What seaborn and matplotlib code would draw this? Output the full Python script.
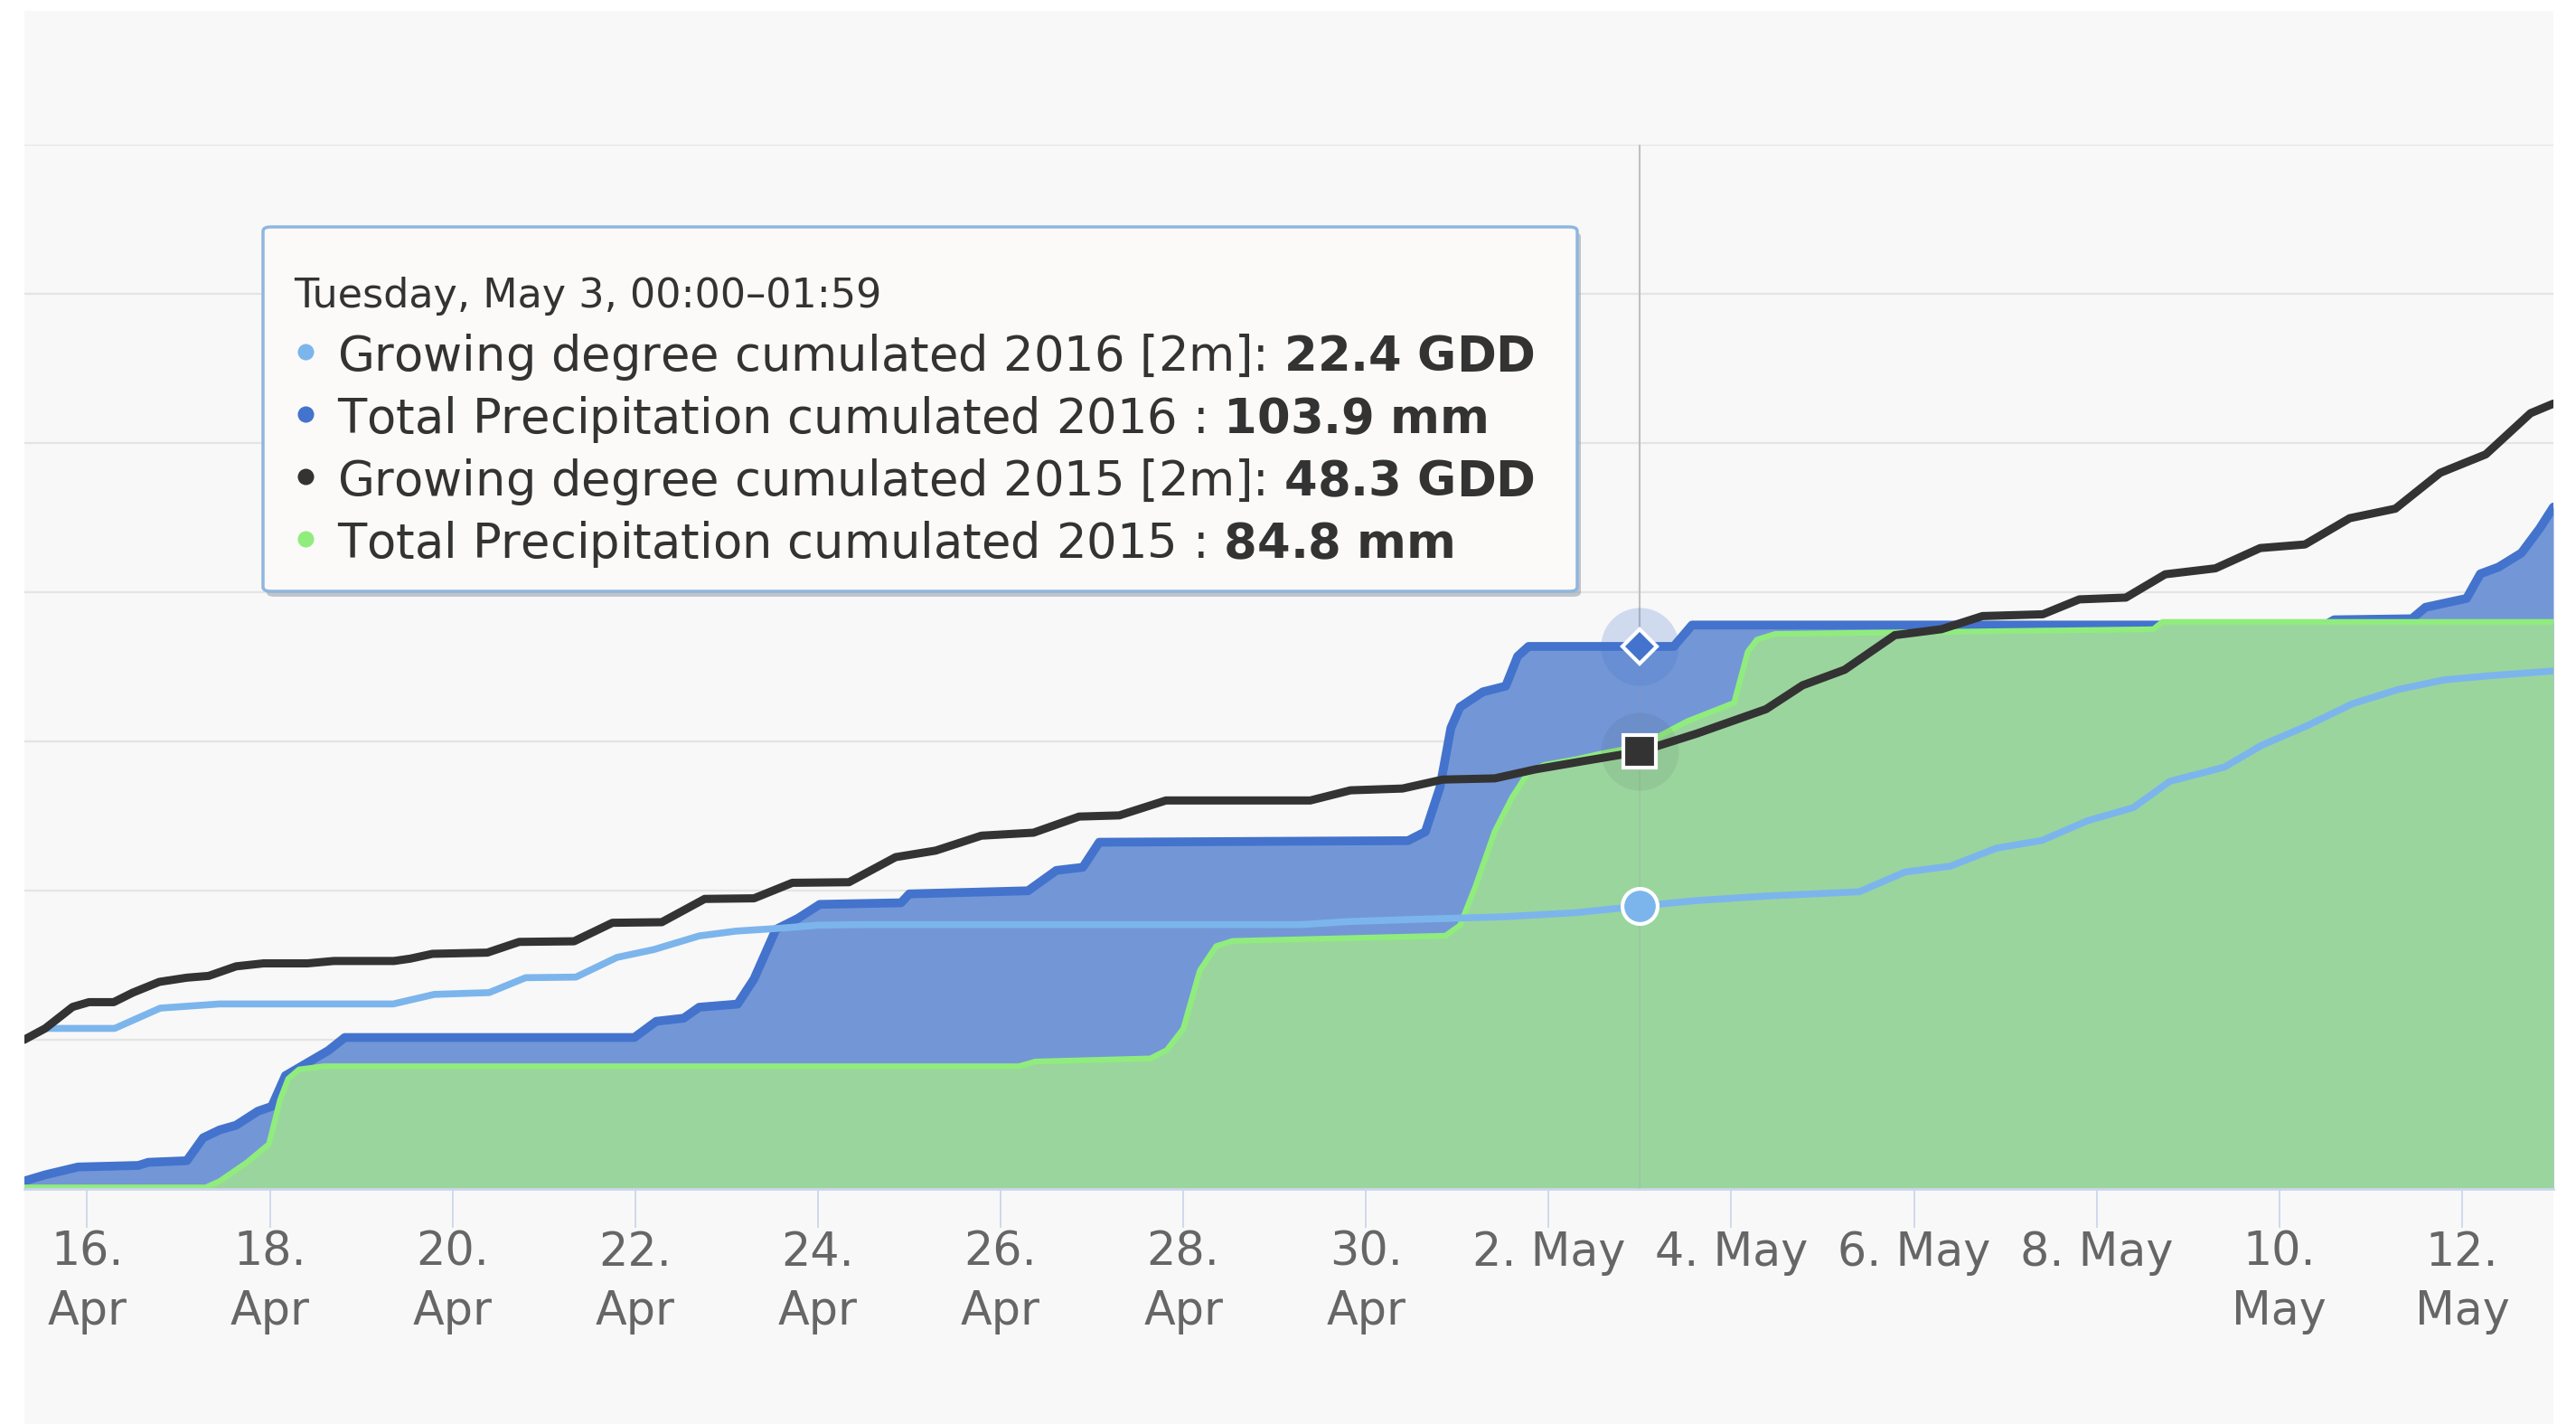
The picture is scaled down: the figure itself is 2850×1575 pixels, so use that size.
import matplotlib
matplotlib.use("Agg")

import numpy as np
import pandas as pd
import matplotlib.pyplot as plt
import seaborn as sns
from matplotlib.patches import Rectangle, FancyBboxPatch
from matplotlib.lines import Line2D

# ===============================
# data (days after 16 Apr 00:00)
# ===============================
gdd16_day = [-0.69, -0.45, 0.3, 0.8, 1.45, 3.35, 3.8, 4.4, 4.8, 5.35, 5.8, 6.2, 6.7, 7.1,
             7.6, 8.0, 8.5, 13.3, 13.8, 14.6, 15.5, 16.3, 17.0, 17.6, 18.4, 19.4, 19.9, 20.4,
             20.9, 21.4, 21.9, 22.4, 22.8, 23.4, 23.8, 24.3, 24.8, 25.3, 25.8, 26.3, 27.0]
gdd16_val = [0.0, 1.9, 1.9, 5.3, 6.0, 6.0, 7.6, 7.9, 10.4, 10.5, 13.8, 15.1, 17.4, 18.2,
             18.7, 19.2, 19.3, 19.3, 19.8, 20.2, 20.6, 21.3, 22.4, 23.3, 24.1, 24.8, 28.1, 29.1,
             32.1, 33.4, 36.7, 38.9, 43.3, 45.7, 49.3, 52.6, 56.3, 58.7, 60.3, 61.0, 61.8]

gdd15_day = [-0.69, -0.46, -0.16, 0.02, 0.29, 0.5, 0.79, 1.09, 1.33, 1.63, 1.93, 2.41, 2.70,
             3.36, 3.54, 3.78, 4.38, 4.73, 5.33, 5.75, 6.29, 6.76, 7.30, 7.72, 8.34, 8.85, 9.29,
             9.79, 10.36, 10.86, 11.3, 11.81, 13.39, 13.83, 14.4, 14.84, 15.41, 15.85, 16.42,
             17.0, 17.62, 18.38, 18.78, 19.24, 19.79, 20.3, 20.75, 21.41, 21.81, 22.32, 22.75,
             23.3, 23.79, 24.28, 24.77, 25.27, 25.76, 26.26, 26.75, 27.0]
gdd15_val = [0.0, 1.9, 5.5, 6.3, 6.3, 7.9, 9.7, 10.4, 10.7, 12.3, 12.8, 12.8, 13.2,
             13.2, 13.6, 14.4, 14.6, 16.4, 16.5, 19.6, 19.7, 23.6, 23.7, 26.3, 26.4, 30.6, 31.7,
             34.2, 34.7, 37.4, 37.6, 40.1, 40.1, 41.8, 42.1, 43.6, 43.8, 45.3, 46.8,
             48.3, 51.3, 55.4, 59.4, 62.0, 67.8, 68.8, 71.0, 71.3, 73.8, 74.1, 78.0,
             79.0, 82.4, 83.0, 87.4, 89.0, 95.0, 98.1, 105.0, 106.6]

prec16_day = [-0.69, -0.46, -0.1, 0.56, 0.67, 1.09, 1.27, 1.45, 1.63, 1.87, 2.02, 2.17, 2.64,
              2.82, 5.99, 6.23, 6.53, 6.7, 7.12, 7.3, 7.54, 7.78, 8.02, 8.91, 9.0, 10.3, 10.61,
              10.9, 11.08, 14.46, 14.65, 14.81, 14.93, 15.03, 15.28, 15.53, 15.66, 15.78, 17.37,
              17.57, 24.5, 24.6, 25.45, 25.6, 26.05, 26.2, 26.4, 26.65, 26.85, 27.0]
prec16_val = [1.5, 2.7, 4.2, 4.5, 5.1, 5.4, 9.8, 11.3, 12.2, 14.9, 15.8, 21.7, 26.5,
              29.0, 29.0, 32.1, 32.7, 34.8, 35.4, 40.2, 49.7, 51.8, 54.5, 54.8, 56.5, 57.1, 61.0,
              61.6, 66.4, 66.7, 68.4, 76.9, 88.3, 92.3, 95.2, 96.3, 102.0, 103.9, 103.9,
              108.0, 108.0, 109.0, 109.2, 111.4, 113.1, 117.8, 119.1, 121.8, 126.5, 130.6]

prec15_day = [-0.69, 1.3, 1.45, 1.75, 1.99, 2.11, 2.2, 2.32, 2.59, 10.2, 10.38, 11.64, 11.82,
              12.0, 12.18, 12.36, 12.54, 14.87, 15.03, 15.2, 15.41, 15.6, 15.77, 15.95, 16.3,
              16.58, 17.0, 17.52, 18.03, 18.18, 18.28, 18.48, 22.62, 22.72, 27.0]
prec15_val = [0.3, 0.3, 1.5, 5.1, 8.6, 17.0, 21.1, 22.9, 23.5, 23.5, 24.4, 25.0, 26.6,
              30.7, 41.8, 46.5, 47.5, 48.5, 50.5, 58.0, 68.5, 75.0, 79.6, 81.2, 82.3,
              83.4, 84.8, 89.6, 93.1, 102.9, 105.2, 106.3, 107.2, 108.6, 108.6]

tick_labels = ["16.\nApr", "18.\nApr", "20.\nApr", "22.\nApr", "24.\nApr", "26.\nApr",
               "28.\nApr", "30.\nApr", "2. May", "4. May", "6. May", "8. May",
               "10.\nMay", "12.\nMay"]

hover_day = 17.0
hover_header = "Tuesday, May 3, 00:00\u201301:59"
hover_names = ["Growing degree cumulated 2016 [2m]: ",
               "Total Precipitation cumulated 2016 : ",
               "Growing degree cumulated 2015 [2m]: ",
               "Total Precipitation cumulated 2015 : "]
hover_values = [22.4, 103.9, 48.3, 84.8]
hover_units = ["GDD", "mm", "GDD", "mm"]

# colours
c_gdd16 = "#7cb5ec"
c_prec16 = "#4373cc"
c_prec16_fill = "#7397d6"
c_gdd15 = "#333333"
c_prec15 = "#90ed7d"
c_prec15_fill = "#9bd59e"

base = pd.Timestamp("2016-04-16")


def frame(days, vals):
    return pd.DataFrame({"time": base + pd.to_timedelta(days, unit="D"), "value": vals})


g16 = frame(gdd16_day, gdd16_val)
g15 = frame(gdd15_day, gdd15_val)
p16 = frame(prec16_day, prec16_val)
p15 = frame(prec15_day, prec15_val)
hover_time = base + pd.Timedelta(days=hover_day)

# ===============================
# figure
# ===============================
sns.set_theme(style="white")
plt.rcParams["font.family"] = ["DejaVu Sans"]

W, H = 2850, 1575
fig = plt.figure(figsize=(W / 100, H / 100), dpi=100)
fig.patch.set_facecolor("white")
fig.add_artist(Rectangle((27 / W, 0), (2825 - 27) / W, 1 - 12 / H, transform=fig.transFigure,
                         facecolor="#f8f8f8", edgecolor="none", zorder=-10))

ax = fig.add_axes([27 / W, 1 - 1315 / H, (2825 - 27) / W, (1315 - 160) / H])
ax.patch.set_facecolor("none")
ax2 = ax.twinx()
ax2.patch.set_visible(False)


def draw_line(df, target, color, width, z):
    sns.lineplot(data=df, x="time", y="value", ax=target, color=color, zorder=z)
    ln = target.lines[-1]
    ln.set_linewidth(width)
    ln.set_solid_joinstyle("round")
    ln.set_solid_capstyle("round")


# precipitation areas
ax.axvline(hover_time, color="#c8c8c8", lw=1.5, zorder=1)
ax.fill_between(p16["time"], 0, p16["value"], color=c_prec16_fill, lw=0, zorder=2)
draw_line(p16, ax, c_prec16, 7, 3)
ax.fill_between(p15["time"], 0, p15["value"], color=c_prec15_fill, lw=0, zorder=4)
draw_line(p15, ax, c_prec15, 4.5, 5)

# growing degree lines
ax2.axvline(hover_time, color="#888888", lw=1.5, alpha=0.12, zorder=1)
draw_line(g16, ax2, c_gdd16, 5.5, 3)
draw_line(g15, ax2, c_gdd15, 6.5, 4)

# hover markers
ax2.plot([hover_time], [hover_values[1]], marker="o", ms=62, color=c_prec16, alpha=0.22,
         mew=0, transform=ax.transData, zorder=8)
ax2.plot([hover_time], [hover_values[2]], marker="o", ms=62, color=c_gdd15, alpha=0.08,
         mew=0, zorder=8)
ax2.plot([hover_time], [hover_values[1]], marker="D", ms=19, mfc=c_prec16, mec="white",
         mew=3, transform=ax.transData, zorder=9)
ax2.plot([hover_time], [hover_values[2]], marker="s", ms=26, mfc=c_gdd15, mec="white",
         mew=3, zorder=9)
ax2.plot([hover_time], [hover_values[0]], marker="o", ms=28, mfc=c_gdd16, mec="white",
         mew=3, zorder=9)

# axes styling
ax.set_xlim(base - pd.Timedelta(hours=16.5), base + pd.Timedelta(days=27))
ax.set_ylim(0, 200)
ax2.set_ylim(-25, 150)
ax.set_yticks(np.linspace(0, 200, 8))
ax.yaxis.grid(True, color="#e4e4e4", lw=1.6)
ax.xaxis.grid(False)
ax.set_axisbelow(True)
ax.tick_params(axis="y", left=False, labelleft=False)
ax2.tick_params(axis="y", right=False, labelright=False)
ax2.grid(False)
for a in (ax, ax2):
    a.set_xlabel("")
    a.set_ylabel("")
    for s in a.spines.values():
        s.set_visible(False)
ax.spines["bottom"].set_visible(True)
ax.spines["bottom"].set_color("#ccd6eb")
ax.spines["bottom"].set_linewidth(2)
ax.spines["bottom"].set_zorder(6)

ax.set_xticks(pd.date_range("2016-04-16", "2016-05-12", freq="2D"))
ax.set_xticklabels(tick_labels)
ax.tick_params(axis="x", direction="out", length=31, width=1.3, color="#ccd6eb",
               labelsize=36.5, labelcolor="#666666", pad=2, bottom=True)
for lab in ax.get_xticklabels():
    lab.set_linespacing(1.38)

# ===============================
# tooltip
# ===============================
x0, x1 = 291 / W, 1745 / W
y0, y1 = 1 - 654 / H, 1 - 251 / H
fig.add_artist(FancyBboxPatch((x0 + 4 / W, y0 - 6 / H), x1 - x0, y1 - y0,
                              boxstyle="round,pad=0,rounding_size=0.003",
                              transform=fig.transFigure, facecolor="#8a939d", alpha=0.5,
                              edgecolor="none", zorder=20))
fig.add_artist(FancyBboxPatch((x0, y0), x1 - x0, y1 - y0,
                              boxstyle="round,pad=0,rounding_size=0.003",
                              transform=fig.transFigure, facecolor="#fbfaf9",
                              edgecolor="#8fb6df", lw=2.5, zorder=21))

fig.text(325 / W, 1 - 340 / H, hover_header, fontsize=32, color="#333333",
         va="baseline", zorder=22)
row_colors = [c_gdd16, c_prec16, c_gdd15, c_prec15]
row_base = [410, 479, 548, 617]
for name, val, unit, col, yb in zip(hover_names, hover_values, hover_units, row_colors, row_base):
    fig.add_artist(Line2D([338 / W], [1 - (yb - 21) / H], marker="o", ms=13, color=col,
                          mew=0, transform=fig.transFigure, zorder=22))
    fig.text(373 / W, 1 - yb / H, name + r"$\mathbf{" + f"{val}" + r"\ " + unit + "}$",
             fontsize=38, color="#333333", va="baseline", zorder=22)

fig.savefig("out.png", dpi=100)
plt.close(fig)
